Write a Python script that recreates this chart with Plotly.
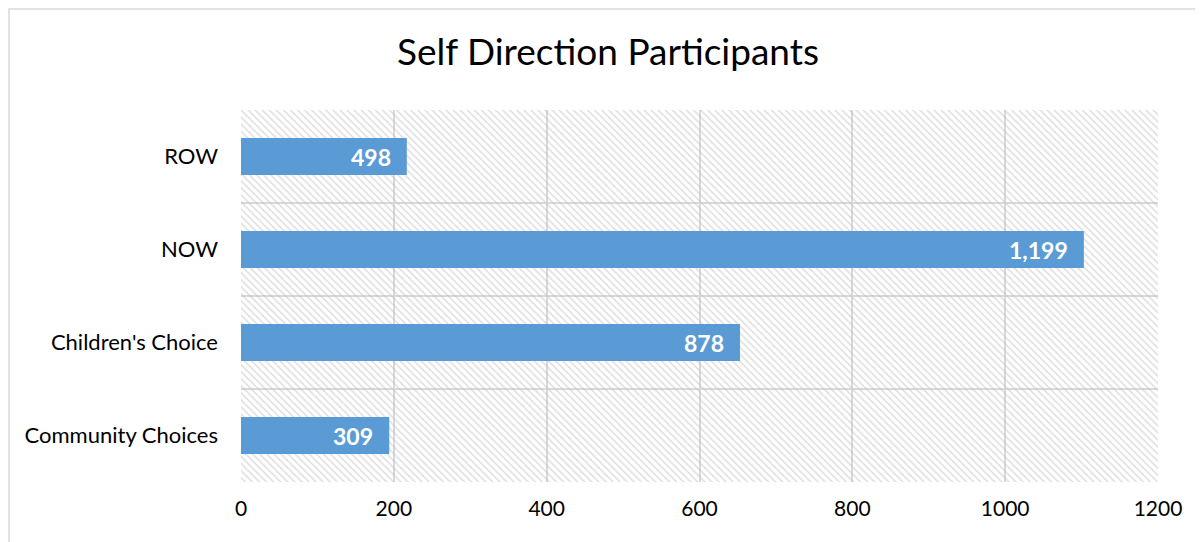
import plotly.graph_objects as go

categories = ["Community Choices", "Children's Choice", "NOW", "ROW"]
bar_lengths = [194, 653, 1103, 217]
bar_labels = ["309", "878", "1,199", "498"]
x_ticks = [0, 200, 400, 600, 800, 1000, 1200]

AXIS_MAX = 1200
FONT = "Lato, Open Sans, sans-serif"
GRID = "#d9d9d9"

fig = go.Figure()

# hatched plot-area background
fig.add_trace(go.Bar(
    y=categories, x=[AXIS_MAX] * len(categories), orientation="h", width=1,
    marker=dict(color="rgba(0,0,0,0)", line=dict(width=0),
                pattern=dict(shape="\\", fgcolor="#bdbdbd", bgcolor="rgba(0,0,0,0)",
                             size=5, solidity=0.3)),
    hoverinfo="skip", showlegend=False,
))

fig.add_trace(go.Bar(
    y=categories, x=bar_lengths, orientation="h", width=0.4,
    marker=dict(color="#5b9bd5", line=dict(width=0)),
    showlegend=False,
))

for cat, val, lab in zip(categories, bar_lengths, bar_labels):
    fig.add_annotation(x=val, y=cat, text=f"<b>{lab}</b>", showarrow=False,
                       xanchor="right", xshift=-14,
                       font=dict(family=FONT, size=23, color="white"))

# outer chart border (at the figure's top-left edge)
fig.add_shape(type="rect", xref="paper", yref="paper",
              x0=(1 - 233) / 917, x1=1.1, y0=-0.3, y1=1 + (102 - 1) / 372,
              line=dict(color="#d9d9d9", width=1.5), fillcolor="rgba(0,0,0,0)", layer="below")

fig.update_layout(
    width=1203, height=542,
    margin=dict(l=233, r=53, t=102, b=68),
    barmode="overlay",
    paper_bgcolor="white", plot_bgcolor="white",
    title=dict(text="Self Direction Participants", x=(608 - 8) / 1203, xref="container",
               xanchor="center", y=1 - 44 / 542, yanchor="middle",
               font=dict(family=FONT, size=37, color="black")),
    font=dict(family=FONT, color="black"),
    xaxis=dict(range=[0, AXIS_MAX], tickvals=x_ticks, showgrid=True, gridcolor=GRID, gridwidth=1.5,
               zeroline=False, showline=False, ticks="", ticklabelstandoff=12,
               tickfont=dict(size=21, color="black")),
    yaxis=dict(type="category", categoryorder="array", categoryarray=categories,
               tickson="boundaries", showgrid=True, gridcolor=GRID, gridwidth=1.5,
               showline=False, ticks="", ticklabelstandoff=22,
               tickfont=dict(size=22, color="black")),
)

fig.write_html("out.html")
